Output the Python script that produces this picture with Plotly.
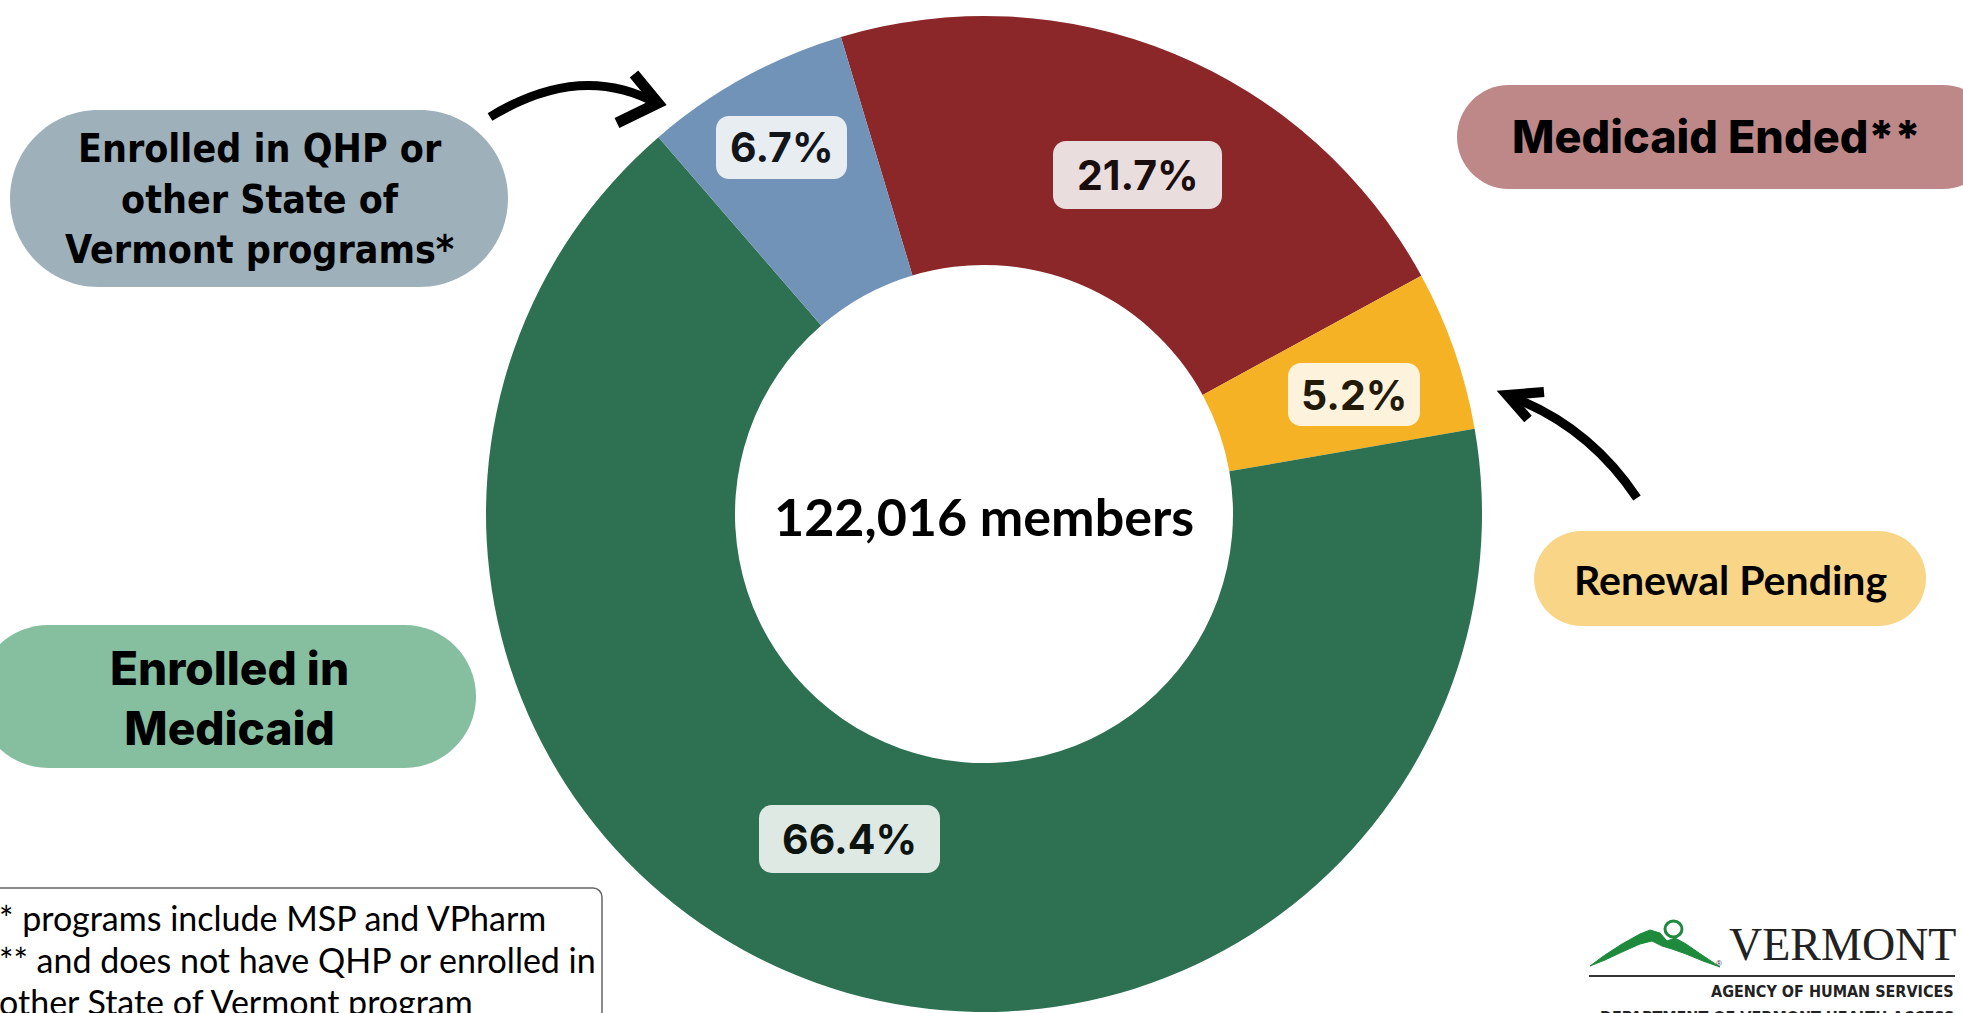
import plotly.graph_objects as go

W, H = 1963, 1013

# ---- data ----
categories = ["Medicaid Ended", "Renewal Pending", "Enrolled in Medicaid", "Enrolled in QHP or other State of Vermont programs"]
values = [21.7, 5.2, 66.4, 6.7]
slice_colors = ["#8B2729", "#F4B224", "#2D7052", "#7293B8"]
center_text = "122,016 members"
pill_texts = ["Medicaid Ended**", "Renewal Pending", "Enrolled in<br>Medicaid", "Enrolled in QHP or<br>other State of<br>Vermont programs*"]
footnotes = ["* programs include MSP and VPharm", "** and does not have QHP or enrolled in", "other State of Vermont program"]

# ---- styles / layout helpers ----
label_box_fill = ["#EADDDD", "#FDF2DC", "#DFE9E3", "#E8EDF2"]
label_text_col = ["#1A0D0D", "#231A06", "#0B140F", "#12161A"]
label_box_px = [(1053, 141, 1222, 209), (1288, 363, 1420, 426), (759, 805, 940, 873), (716, 116, 847, 179)]
COND = "DejaVu Sans Condensed, Liberation Sans Narrow, Roboto, sans-serif"

def X(px):
    return px / W

def Y(py):
    return 1 - py / H

K = 0.5523

def rr_path(x0, y0, x1, y1, r):
    kr = K * r
    pts = [
        ("M", [(x0 + r, y0)]),
        ("L", [(x1 - r, y0)]),
        ("C", [(x1 - r + kr, y0), (x1, y0 + r - kr), (x1, y0 + r)]),
        ("L", [(x1, y1 - r)]),
        ("C", [(x1, y1 - r + kr), (x1 - r + kr, y1), (x1 - r, y1)]),
        ("L", [(x0 + r, y1)]),
        ("C", [(x0 + r - kr, y1), (x0, y1 - r + kr), (x0, y1 - r)]),
        ("L", [(x0, y0 + r)]),
        ("C", [(x0, y0 + r - kr), (x0 + r - kr, y0), (x0 + r, y0)]),
    ]
    s = ""
    for cmd, ps in pts:
        s += cmd + " " + " ".join(f"{X(a):.5f},{Y(b):.5f}" for a, b in ps) + " "
    return s + "Z"

def poly_path(points, closed=False):
    s = "M " + f"{X(points[0][0]):.5f},{Y(points[0][1]):.5f}"
    for a, b in points[1:]:
        s += f" L {X(a):.5f},{Y(b):.5f}"
    return s + (" Z" if closed else "")

def quad_path(p0, c, p1):
    return (f"M {X(p0[0]):.5f},{Y(p0[1]):.5f} Q {X(c[0]):.5f},{Y(c[1]):.5f} "
            f"{X(p1[0]):.5f},{Y(p1[1]):.5f}")

fig = go.Figure()
fig.add_trace(go.Pie(
    labels=categories, values=values, sort=False, direction="clockwise",
    rotation=-16.7, hole=0.5,
    marker=dict(colors=slice_colors, line=dict(width=0)),
    textinfo="none", hoverinfo="label+percent", showlegend=False,
    domain=dict(x=[486 / W, 1482 / W], y=[1 / H, 997 / H]),
))

shapes = []
annotations = []

# percentage label boxes
for v, fill, col, (x0, y0, x1, y1) in zip(values, label_box_fill, label_text_col, label_box_px):
    shapes.append(dict(type="path", path=rr_path(x0, y0, x1, y1, 13), xref="paper", yref="paper",
                       fillcolor=fill, line=dict(width=0), layer="above"))
    annotations.append(dict(x=X((x0 + x1) / 2), y=Y((y0 + y1) / 2), xref="paper", yref="paper",
                            text=f"{v}%", showarrow=False, xanchor="center", yanchor="middle",
                            font=dict(family="Inter", size=41, color=col, weight="bold")))

# center text
annotations.append(dict(x=X(984), y=Y(516), xref="paper", yref="paper", text=center_text,
                        showarrow=False, xanchor="center", yanchor="middle",
                        font=dict(family="Lato", size=52, color="#000000", weight="bold")))

# pills
pills = [
    dict(box=(1457, 85, 1995, 189), fill="#BF8888", tx=1716, ty=136,
         font=dict(family="Inter", size=45, color="#000000", weight=800)),
    dict(box=(1534, 531, 1926, 626), fill="#F8D587", tx=1730, ty=579,
         font=dict(family="Lato", size=41, color="#000000", weight="bold")),
    dict(box=(-23, 625, 476, 768), fill="#86BF9F", tx=229, ty=698,
         font=dict(family="Inter", size=46, color="#000000", weight=800)),
    dict(box=(10, 110, 508, 287), fill="#9EB0BA", tx=259, ty=199,
         font=dict(family=COND, size=39, color="#000000", weight="bold")),
]
for t, p in zip(pill_texts, pills):
    x0, y0, x1, y1 = p["box"]
    shapes.append(dict(type="path", path=rr_path(x0, y0, x1, y1, (y1 - y0) / 2), xref="paper", yref="paper",
                       fillcolor=p["fill"], line=dict(width=0), layer="above"))
    annotations.append(dict(x=X(p["tx"]), y=Y(p["ty"]), xref="paper", yref="paper", text=t,
                            showarrow=False, xanchor="center", yanchor="middle", align="center",
                            font=p["font"]))

# arrows
arrow_line = dict(color="#000000", width=9)
shapes.append(dict(type="path", path=quad_path((490, 117), (580, 62), (656, 103)), xref="paper", yref="paper",
                   line=arrow_line, fillcolor="rgba(0,0,0,0)", layer="above"))
shapes.append(dict(type="path", path=poly_path([(634, 74), (658, 103), (617, 123)]), xref="paper", yref="paper",
                   line=dict(color="#000000", width=11), fillcolor="rgba(0,0,0,0)", layer="above"))
shapes.append(dict(type="path", path=quad_path((1637, 498), (1588, 425), (1509, 396)), xref="paper", yref="paper",
                   line=arrow_line, fillcolor="rgba(0,0,0,0)", layer="above"))
shapes.append(dict(type="path", path=poly_path([(1544, 392), (1507, 395), (1528, 419)]), xref="paper", yref="paper",
                   line=dict(color="#000000", width=10), fillcolor="rgba(0,0,0,0)", layer="above"))

# footnote box
shapes.append(dict(type="path", path=rr_path(-20, 888, 602, 1040, 9), xref="paper", yref="paper",
                   fillcolor="rgba(255,255,255,0)", line=dict(color="#666666", width=1.5), layer="above"))
for i, t in enumerate(footnotes):
    annotations.append(dict(x=X(-3), y=Y(917 + i * 42), xref="paper", yref="paper", text=t,
                            showarrow=False, xanchor="left", yanchor="middle",
                            font=dict(family="Lato", size=34, color="#000000")))

# logo (drawn)
mountain = [(1590, 966), (1605, 955), (1622, 944), (1640, 934), (1650, 930), (1660, 933),
            (1667, 941), (1675, 938), (1686, 944), (1702, 955), (1720, 967), (1703, 961),
            (1686, 954), (1672, 949), (1662, 946), (1652, 941), (1640, 944), (1622, 952),
            (1605, 960)]
shapes.append(dict(type="path", path=poly_path(mountain, closed=True), xref="paper", yref="paper",
                   fillcolor="#1E8A3C", line=dict(color="#1E8A3C", width=1), layer="above"))
shapes.append(dict(type="circle", x0=X(1665), x1=X(1682), y0=Y(937), y1=Y(921), xref="paper", yref="paper",
                   line=dict(color="#1E8A3C", width=3), fillcolor="rgba(0,0,0,0)", layer="above"))
shapes.append(dict(type="line", x0=X(1589), x1=X(1955), y0=Y(976), y1=Y(976), xref="paper", yref="paper",
                   line=dict(color="#333333", width=2), layer="above"))
annotations.append(dict(x=X(1958), y=Y(944), xref="paper", yref="paper", text="VERMONT", showarrow=False,
                        xanchor="right", yanchor="middle",
                        font=dict(family="Liberation Serif", size=46, color="#222222")))
annotations.append(dict(x=X(1719), y=Y(963), xref="paper", yref="paper", text="®", showarrow=False,
                        xanchor="center", yanchor="middle",
                        font=dict(family="Liberation Sans", size=8, color="#333333")))
annotations.append(dict(x=X(1956), y=Y(991), xref="paper", yref="paper", text="AGENCY OF HUMAN SERVICES",
                        showarrow=False, xanchor="right", yanchor="middle",
                        font=dict(family=COND, size=16, color="#222222", weight="bold")))
annotations.append(dict(x=X(1956), y=Y(1006), xref="paper", yref="paper",
                        text="DEPARTMENT OF VERMONT HEALTH ACCESS", showarrow=False,
                        xanchor="right", yanchor="top",
                        font=dict(family=COND, size=16, color="#222222", weight="bold")))

fig.update_layout(
    width=W, height=H, margin=dict(l=0, r=0, t=0, b=0),
    paper_bgcolor="#FFFFFF", plot_bgcolor="#FFFFFF",
    shapes=shapes, annotations=annotations,
)

fig.write_html("out.html", config={"displayModeBar": False},
               post_script="document.body.style.margin='0';document.body.style.overflow='hidden';")
